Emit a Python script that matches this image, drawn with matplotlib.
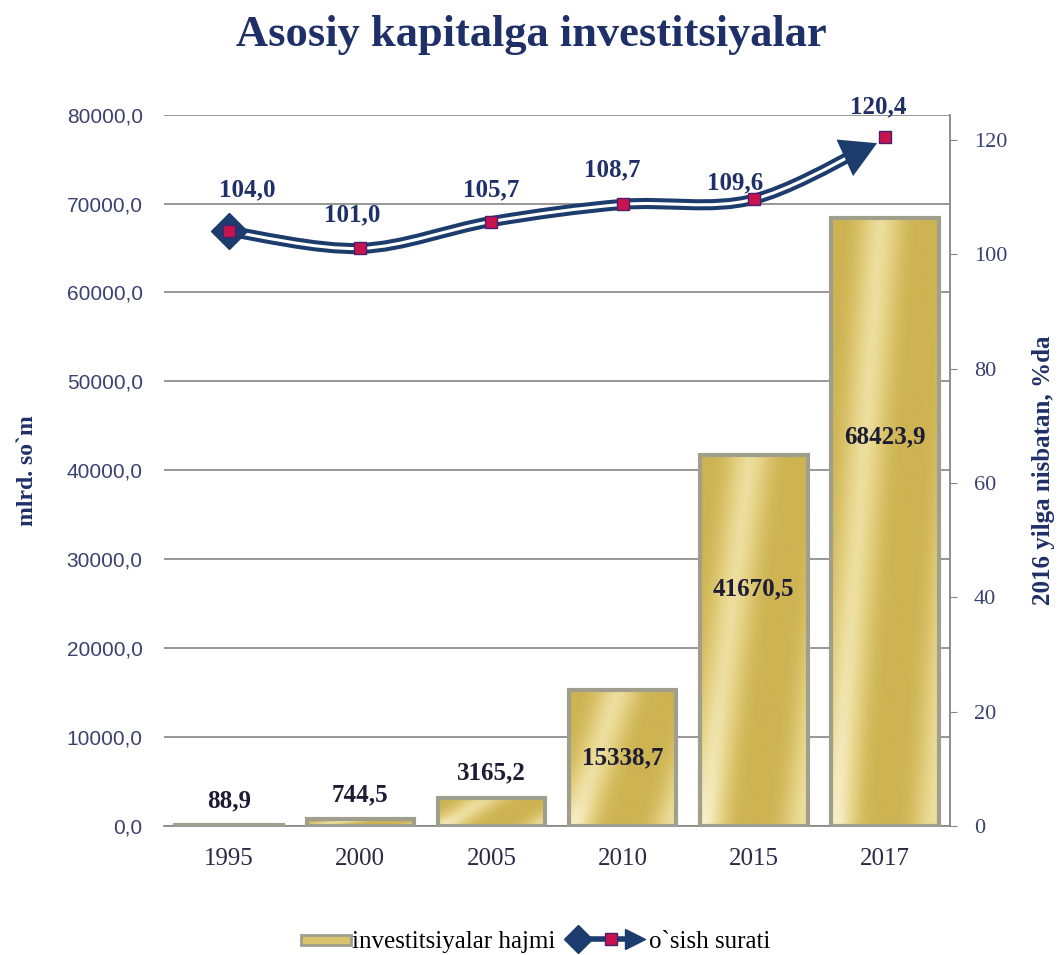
import matplotlib
matplotlib.use('Agg')
import matplotlib.pyplot as plt
import numpy as np
from matplotlib.colors import LinearSegmentedColormap
from matplotlib.legend_handler import HandlerBase
from matplotlib.lines import Line2D
from matplotlib.patches import Patch, PathPatch, Rectangle
from matplotlib.path import Path

years = ['1995', '2000', '2005', '2010', '2015', '2017']
volume = [88.9, 744.5, 3165.2, 15338.7, 41670.5, 68423.9]
volume_labels = ['88,9', '744,5', '3165,2', '15338,7', '41670,5', '68423,9']
growth = [104.0, 101.0, 105.7, 108.7, 109.6, 120.4]
growth_labels = ['104,0', '101,0', '105,7', '108,7', '109,6', '120,4']

navy = '#1f3068'
line_navy = '#1d3c6e'
tick_color = '#3b4170'
edge_gray = '#a09e8c'
serif = 'Liberation Serif'
sans = 'Liberation Sans'

fig = plt.figure(figsize=(10.62, 9.55), dpi=100)
ax = fig.add_axes([0.154, 0.135, 0.741, 0.745])
ax2 = ax.twinx()

x = np.arange(len(years))
gold = LinearSegmentedColormap.from_list('gold', ['#cdb352', '#dbc56e', '#e8d78e', '#f8f1cc'])

bars = ax.bar(x, volume, width=0.82, color='none', edgecolor=edge_gray, linewidth=3, zorder=3)
for b in bars:
	x0, y0, w, h = b.get_x(), b.get_y(), b.get_width(), b.get_height()
	gx, gy = np.meshgrid(np.linspace(0, 1, 120), np.linspace(0, 1, 240))
	sheen = 0.5 + 0.5 * np.sin(2 * np.pi * (gx * 1.1 - gy * 0.45) + 1.2)
	sheen = 0.75 * sheen ** 2 + 0.25 * np.clip(1 - 3 * gx, 0, 1) * np.clip(1 - 2 * gy, 0, 1)
	im = ax.imshow(sheen, cmap=gold, extent=(x0, x0 + w, y0, y0 + h), origin='lower',
		aspect='auto', zorder=2, interpolation='bilinear', vmin=0, vmax=1)
	im.set_clip_path(b)

ax.set_xlim(-0.5, 5.5)
ax.set_ylim(0, 80000)
ax.set_yticks(np.arange(0, 80001, 10000))
ax.set_yticklabels([f'{v},0' for v in range(0, 80001, 10000)], fontfamily=sans, fontsize=15, color=tick_color)
ax.set_xticks(x)
ax.set_xticklabels(years, fontfamily=serif, fontsize=18, color='#2a2a44')
ax.tick_params(axis='x', length=0, pad=16)
ax.tick_params(axis='y', length=0, pad=15)
ax.grid(axis='y', color='#858585', linewidth=1.2, zorder=0)
ax.set_axisbelow(True)
for s in ['top', 'left', 'right']:
	ax.spines[s].set_visible(False)
ax.spines['bottom'].set_color('#858585')
ax.spines['bottom'].set_linewidth(1.2)
ax.set_ylabel('mlrd. so`m', fontfamily=serif, fontweight='bold', fontsize=17, color=navy, labelpad=21)

for i, (v, lab) in enumerate(zip(volume, volume_labels)):
	if v < 5000:
		ypos = v + 2800
	elif v < 20000:
		ypos = v * 0.5
	else:
		ypos = v * 0.64
	ax.text(i, ypos, lab, ha='center', va='center', fontfamily=serif, fontweight='bold',
		fontsize=18, color='#1c1c34', zorder=5)

ax2.set_ylim(0, 124.4)
ax2.set_yticks(np.arange(0, 121, 20))
ax2.set_yticklabels([str(v) for v in range(0, 121, 20)], fontfamily=serif, fontsize=16, color=tick_color)
ax2.tick_params(axis='y', direction='out', length=5, color='#858585', pad=12)
for s in ['top', 'left', 'bottom']:
	ax2.spines[s].set_visible(False)
ax2.spines['right'].set_color('#858585')
ax2.spines['right'].set_linewidth(1.3)
ax2.set_ylabel('2016 yilga nisbatan, %da', fontfamily=serif, fontweight='bold', fontsize=18,
	color=navy, labelpad=18)

# smooth curve through the growth points (Catmull-Rom as cubic Bezier)
pts = np.column_stack([x, growth]).astype(float)
segs = []
for i in range(len(pts) - 1):
	p0 = pts[max(i - 1, 0)]
	p1, p2 = pts[i], pts[i + 1]
	p3 = pts[min(i + 2, len(pts) - 1)]
	segs.append([p1, p1 + (p2 - p0) / 6, p2 - (p3 - p1) / 6, p2])

# cut the last segment short so the arrow head sits in front of the last point
a, b_, c, d = segs[-1]
t = 0.76
ab, bc, cd = a + (b_ - a) * t, b_ + (c - b_) * t, c + (d - c) * t
abc, bcd = ab + (bc - ab) * t, bc + (cd - bc) * t
cut = abc + (bcd - abc) * t
segs[-1] = [a, ab, abc, cut]

verts, codes = [segs[0][0]], [Path.MOVETO]
for s in segs:
	verts += s[1:]
	codes += [Path.CURVE4] * 3
curve = Path(verts, codes)
ax2.add_patch(PathPatch(curve, facecolor='none', edgecolor=line_navy, linewidth=8, zorder=4, capstyle='butt'))
ax2.add_patch(PathPatch(curve, facecolor='none', edgecolor='white', linewidth=2.2, zorder=5, capstyle='butt'))
ax2.annotate('', xy=(pts[-1][0] - 0.06, pts[-1][1] - 1.0), xytext=(cut[0] - 0.02, cut[1] - 0.3),
	arrowprops=dict(arrowstyle='-|>,head_length=1.5,head_width=0.85', color=line_navy, lw=0,
		mutation_scale=17, shrinkA=0, shrinkB=0), zorder=6)
ax2.plot(x[0], growth[0], marker='D', markersize=18, color=line_navy, zorder=6)
ax2.plot(x, growth, linestyle='none', marker='s', markersize=9, markerfacecolor='#c8144e',
	markeredgecolor='#4a1f6a', markeredgewidth=1, zorder=7)

offsets = [(0.14, 7.2), (-0.06, 5.9), (0, 5.5), (-0.08, 6.0), (-0.14, 2.9), (-0.05, 5.4)]
for i, (v, lab) in enumerate(zip(growth, growth_labels)):
	dx, dy = offsets[i]
	ax2.text(i + dx, v + dy, lab, ha='center', va='center', fontfamily=serif, fontweight='bold',
		fontsize=18, color=navy, zorder=8)

fig.text(0.5, 0.963, 'Asosiy kapitalga investitsiyalar', ha='center', va='center', fontfamily=serif,
	fontweight='bold', fontsize=32, color=navy)


class BarHandler(HandlerBase):
	def create_artists(self, legend, orig_handle, xdescent, ydescent, width, height, fontsize, trans):
		w = width * 0.6
		r = Rectangle((width - w - xdescent, -ydescent + height * 0.15), w, height * 0.6,
			facecolor='#d8c46c', edgecolor=edge_gray, linewidth=2, transform=trans)
		return [r]


class GrowthHandler(HandlerBase):
	def create_artists(self, legend, orig_handle, xdescent, ydescent, width, height, fontsize, trans):
		y = height / 2 - ydescent
		x0 = -xdescent
		line = Line2D([x0 + 8, x0 + width - 8], [y, y], color=line_navy, linewidth=4, transform=trans)
		dia = Line2D([x0 + 9], [y], marker='D', markersize=14, color=line_navy, transform=trans)
		tri = Line2D([x0 + width - 9], [y], marker='>', markersize=15, color=line_navy, transform=trans)
		sq = Line2D([x0 + width * 0.55], [y], marker='s', markersize=9, markerfacecolor='#c8144e',
			markeredgecolor='#4a1f6a', transform=trans)
		return [line, dia, tri, sq]


h_bar = Patch(facecolor='#d8c46c')
h_line = Line2D([], [], color=line_navy)
fig.legend([h_bar, h_line], ['investitsiyalar hajmi', 'o`sish surati'], loc='center',
	bbox_to_anchor=(0.489, 0.014), ncol=2, frameon=False, handlelength=3.3, columnspacing=0.4,
	prop={'family': serif, 'size': 18}, handletextpad=0.05, borderpad=0,
	handler_map={Patch: BarHandler(), Line2D: GrowthHandler()})

fig.savefig('out.png', dpi=100)
